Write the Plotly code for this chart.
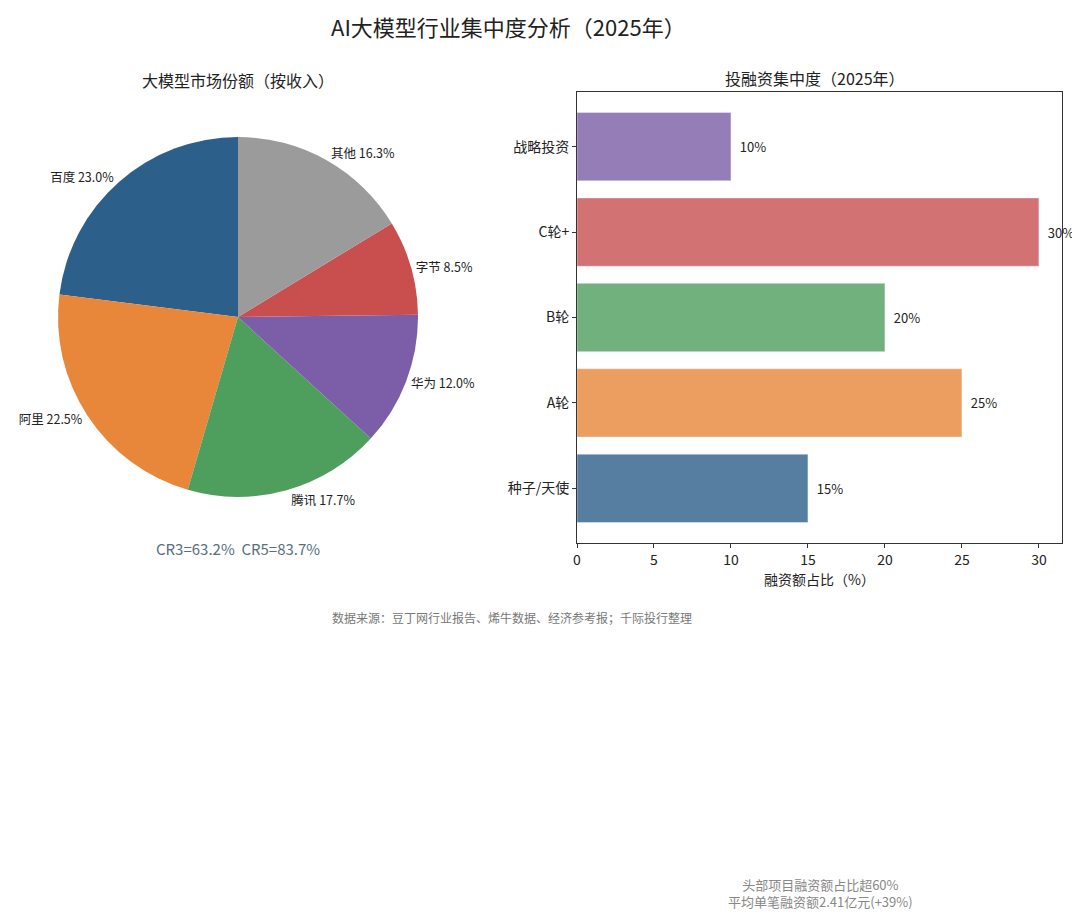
import plotly.graph_objects as go

# 市场份额（按收入）
companies = ['百度', '阿里', '腾讯', '华为', '字节', '其他']
shares = [23.0, 22.5, 17.7, 12.0, 8.5, 16.3]
pie_colors = ['#2C5F8A', '#E8873A', '#4E9E5E', '#7B5EA7', '#C94F4F', '#9B9B9B']

# 投融资集中度
rounds = ['种子/天使', 'A轮', 'B轮', 'C轮+', '战略投资']
round_share = [15, 25, 20, 30, 10]
bar_colors = ['#2C5F8A', '#E8873A', '#4E9E5E', '#C94F4F', '#7B5EA7']

cr_text = 'CR3=63.2%  CR5=83.7%'
notes = ['头部项目融资额占比超60%', '平均单笔融资额2.41亿元(+39%)']
source = '数据来源：豆丁网行业报告、烯牛数据、经济参考报；千际投行整理'

FONT = 'Noto Sans CJK SC'
W, H = 1080, 920
OFF = 8  # 页面 body 默认外边距


def px(x):
    return (x - OFF) / W


def py(y):
    return 1 - (y - OFF) / H


fig = go.Figure()

# 饼图：第一块从12点方向开始逆时针
fig.add_trace(go.Pie(
    labels=companies, values=shares, sort=False,
    direction='counterclockwise', rotation=-shares[0] * 3.6,
    marker=dict(colors=pie_colors),
    texttemplate='%{label} %{value:.1f}%',
    textposition='outside',
    textfont=dict(size=12.5, color='#222222'),
    showlegend=False, hoverinfo='label+value',
    domain=dict(x=[px(58), px(418)], y=[py(497), py(137)]),
))

# 条形图
fig.add_trace(go.Bar(
    x=round_share, y=rounds, orientation='h',
    marker=dict(color=bar_colors, opacity=0.8),
    width=0.8,
    text=[f'  {v}%' for v in round_share],
    textposition='outside', cliponaxis=False,
    textfont=dict(size=13, color='#222222'),
    showlegend=False,
    xaxis='x', yaxis='y',
))

ann = dict(xref='paper', yref='paper', showarrow=False,
           xanchor='center', yanchor='middle')

fig.update_layout(
    width=W, height=H,
    margin=dict(l=0, r=0, t=0, b=0),
    paper_bgcolor='white', plot_bgcolor='white',
    font=dict(family=FONT, color='#222222'),
    xaxis=dict(
        domain=[px(577), px(1062)], range=[0, 31.5], automargin=False,
        tickvals=[0, 5, 10, 15, 20, 25, 30],
        ticks='outside', ticklen=4, tickcolor='#333',
        showline=True, linecolor='#333', linewidth=1, mirror=True,
        showgrid=False, zeroline=False,
        tickfont=dict(size=14),
        title=dict(text='融资额占比（%）', font=dict(size=14), standoff=2),
        anchor='y',
    ),
    yaxis=dict(
        domain=[py(543), py(92)], range=[-0.64, 4.64], automargin=False,
        ticks='outside', ticklen=4, tickcolor='#333',
        showline=True, linecolor='#333', linewidth=1, mirror=True,
        showgrid=False, zeroline=False,
        tickfont=dict(size=14),
        anchor='x',
    ),
    annotations=[
        dict(text='AI大模型行业集中度分析（2025年）', x=px(508), y=1,
             xref='paper', yref='paper', showarrow=False,
             xanchor='center', yanchor='top',
             font=dict(size=22, color='#222222')),
        dict(text='大模型市场份额（按收入）', x=px(238), y=py(80),
             font=dict(size=16, color='#222222'), **ann),
        dict(text='投融资集中度（2025年）', x=px(815), y=py(78),
             font=dict(size=16, color='#222222'), **ann),
        dict(text=cr_text, x=px(238), y=py(548),
             font=dict(size=15, color='#56707E'), **ann),
        dict(text=source, x=px(512), y=py(617),
             font=dict(size=12, color='#777777'), **ann),
        dict(text='<br>'.join(notes), x=px(820), y=py(893),
             font=dict(size=13, color='#888888'), **ann),
    ],
)

fig.write_html('out.html')
